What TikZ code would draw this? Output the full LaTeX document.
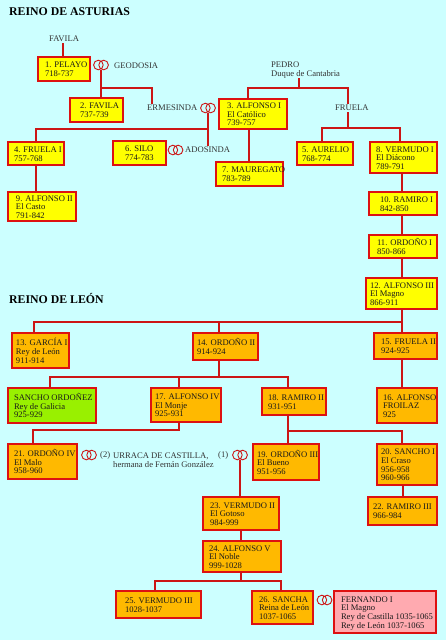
\documentclass[tikz,border=0pt]{standalone}
\usepackage{fontspec}
\setmainfont{Liberation Serif}
\definecolor{bg}{HTML}{CCFFFF}
\definecolor{yel}{HTML}{FFFF00}
\definecolor{ora}{HTML}{FFB900}
\definecolor{grn}{HTML}{99F000}
\definecolor{pnk}{HTML}{FFAAB0}
\definecolor{bordc}{HTML}{DD1111}
\definecolor{linec}{HTML}{CC1515}
\definecolor{txt}{HTML}{1A1A1A}
\definecolor{lab}{HTML}{333333}
\newcommand\boxfont{\fontsize{8.6}{8.7}\selectfont}
\newcommand\kbox[8]{\node[#6, anchor=north west, minimum height={#5pt-#3pt}] (#1) at (#2,#3)
  {\makebox[\dimexpr#4pt-#2pt\relax][l]{\hspace*{#7pt}\raisebox{-1.5pt}[\height][\depth]{\begin{tabular}{@{}l@{}}#8\end{tabular}}}};}
\tikzset{
  box/.style={draw=bordc, line width=1.3pt, text=txt, font=\boxfont, inner xsep=0pt, inner ysep=0pt, outer sep=0pt},
  yb/.style={box, fill=yel},
  ob/.style={box, fill=ora},
  gb/.style={box, fill=grn},
  pb/.style={box, fill=pnk},
  lbl/.style={text=lab, font=\boxfont, inner sep=1pt, anchor=west, align=left},
  titl/.style={text=black, font=\fontsize{11.8}{14}\selectfont\bfseries, inner sep=0pt, anchor=west},
  conn/.style={draw=linec, line width=1.4pt},
  ringnode/.style={inner sep=0pt, outer sep=0pt, minimum width=15pt, minimum height=10pt},
  rings/.pic={\draw[linec, line width=0.9pt] (-2.6pt,0pt) circle (4.8pt) (2.6pt,0pt) circle (4.8pt);}
}
\begin{document}
\begin{tikzpicture}[x=1pt,y=-1pt]
\useasboundingbox (0,0) rectangle (446,640);
\fill[bg] (0,0) rectangle (446,640);

% titles
\node[titl] (t1) at (9,12) {REINO DE ASTURIAS};
\node[titl] (t2) at (9,298) {REINO DE LEÓN};

% labels
\node[lbl] (fav) at (48,39) {FAVILA};
\node[lbl] (geo) at (113,66) {GEODOSIA};
\node[lbl] (erm) at (146,108) {ERMESINDA};
\node[lbl] (ados) at (184,150) {ADOSINDA};
\node[lbl, inner sep=0pt] (ped) at (271,70) {PEDRO\\Duque de Cantabria};
\node[lbl] (fru) at (334,108) {FRUELA};
\node[lbl] (n2) at (99,455) {(2)};
\node[lbl] (urr) at (112,460) {URRACA DE CASTILLA,\\hermana de Fernán González};
\node[lbl] (n1) at (217,455) {(1)};

% rings
\node[ringnode] (r1) at (101,65) {}; \pic at (r1) {rings};
\node[ringnode] (r2) at (208,108) {}; \pic at (r2) {rings};
\node[ringnode] (r3) at (175.5,150) {}; \pic at (r3) {rings};
\node[ringnode] (r4) at (89,455) {}; \pic at (r4) {rings};
\node[ringnode] (r5) at (240,455) {}; \pic at (r5) {rings};
\node[ringnode] (r6) at (324.5,600) {}; \pic at (r6) {rings};

% boxes
\kbox{b1}{38}{57}{90}{81}{yb}{7}{1. PELAYO\\718-737}
\kbox{b2}{70}{98}{123}{122}{yb}{10}{2. FAVILA\\737-739}
\kbox{b3}{219}{99}{287}{129}{yb}{8}{3. ALFONSO I\\El Católico\\739-757}
\kbox{b4}{8}{142}{64}{165}{yb}{6}{4. FRUELA I\\757-768}
\kbox{b5}{297}{142}{353}{165}{yb}{5}{5. AURELIO\\768-774}
\kbox{b6}{113}{141}{166}{165}{yb}{12}{6. SILO\\774-783}
\kbox{b7}{216}{162}{283}{186}{yb}{6}{7. MAUREGATO\\783-789}
\kbox{b8}{370}{142}{437}{173}{yb}{6}{8. VERMUDO I\\El Diácono\\789-791}
\kbox{b9}{8}{192}{76}{221}{yb}{8}{9. ALFONSO II\\El Casto\\791-842}
\kbox{b10}{369}{192}{437}{215}{yb}{11}{10. RAMIRO I\\842-850}
\kbox{b11}{369}{235}{437}{258}{yb}{8}{11. ORDOÑO I\\850-866}
\kbox{b12}{366}{278}{437}{309}{yb}{4}{12. ALFONSO III\\El Magno\\866-911}
\kbox{b13}{12}{333}{69}{368}{ob}{4}{13. GARCÍA I\\Rey de León\\911-914}
\kbox{b14}{193}{333}{258}{360}{ob}{4}{14. ORDOÑO II\\914-924}
\kbox{b15}{374}{333}{437}{359}{ob}{7}{15. FRUELA II\\924-925}
\kbox{b16}{377}{388}{437}{423}{ob}{6}{16. ALFONSO\\FROILAZ\\925}
\kbox{bs}{8}{388}{96}{423}{gb}{6}{SANCHO ORDOÑEZ\\Rey de Galicia\\925-929}
\kbox{b17}{151}{388}{221}{422}{ob}{4}{17. ALFONSO IV\\El Monje\\925-931}
\kbox{b18}{262}{388}{326}{415}{ob}{6}{18. RAMIRO II\\931-951}
\kbox{b19}{253}{444}{319}{480}{ob}{4}{19. ORDOÑO III\\El Bueno\\951-956}
\kbox{b20}{377}{444}{437}{485}{ob}{4}{20. SANCHO I\\El Craso\\956-958\\960-966}
\kbox{b21}{8}{444}{77}{479}{ob}{6}{21. ORDOÑO IV\\El Malo\\958-960}
\kbox{b22}{368}{497}{437}{525}{ob}{5}{22. RAMIRO III\\966-984}
\kbox{b23}{203}{497}{279}{530}{ob}{7}{23. VERMUDO II\\El Gotoso\\984-999}
\kbox{b24}{203}{541}{281}{572}{ob}{6}{24. ALFONSO V\\El Noble\\999-1028}
\kbox{b25}{116}{591}{201}{618}{ob}{9}{25. VERMUDO III\\1028-1037}
\kbox{b26}{252}{591}{313}{624}{ob}{7}{26. SANCHA\\Reina de León\\1037-1065}
\kbox{bf}{334}{591}{436}{633}{pb}{7}{FERNANDO I\\El Magno\\Rey de Castilla 1035-1065\\Rey de León 1037-1065}

% connectors - Asturias
\draw[conn] ([xshift=15pt]fav.south west) -- ([xshift=15pt]fav.south west |- b1.north);
\draw[conn] (r1.south) -- (r1.south |- b2.north);
\draw[conn] ([yshift=-18pt]r1.south) -| ([xshift=6pt]erm.north west);
\draw[conn] (r2.south) -- (r2.south |- ados.north);
\draw[conn] ([yshift=-16pt]r2.south) -| ([xshift=28pt]b4.north west);
\draw[conn] ([xshift=-4pt]b3.south) -- ([xshift=-4pt]b3.south |- b7.north);
\draw[conn] ([xshift=28pt]b4.south west) -- ([xshift=28pt]b4.south west |- b9.north);
\coordinate (jp) at (299,88);
\coordinate (jf) at (348,128);
\draw[conn] (jp |- ped.south) -- (jp);
\draw[conn] ([xshift=-5pt]b3.north) |- (jp) -| (jf |- fru.north);
\draw[conn] (jf |- fru.south) -- (jf);
\draw[conn] ([xshift=-3pt]b5.north) |- (jf) -| ([xshift=-3.5pt]b8.north);
\draw[conn] ([xshift=-1pt]b10.north) -- ([xshift=-1pt]b10.north |- b8.south);
\draw[conn] ([xshift=-1pt]b11.north) -- ([xshift=-1pt]b11.north |- b10.south);
\draw[conn] ([xshift=-1pt]b11.south) -- ([xshift=-1pt]b11.south |- b12.north);

% connectors - Leon
\draw[conn] ([xshift=0.5pt]b12.south) -- ([xshift=0.5pt]b12.south |- b15.north);
\draw[conn] ([yshift=-13pt]b12.south) -| ([xshift=22pt]b13.north west);
\draw[conn] ([xshift=26pt]b14.north west) -- ++(0,-11);
\draw[conn] ([xshift=26pt]b14.south west) -- ++(0,17) coordinate (j14);
\draw[conn] ([xshift=-2pt]bs.north) |- (j14) -| ([xshift=-6pt]b18.north);
\draw[conn] ([xshift=-7pt]b17.north) -- ++(0,-11);
\draw[conn] ([xshift=-3.5pt]b15.south) -- ([xshift=-3.5pt]b15.south |- b16.north);
\draw[conn] ([xshift=-7pt]b17.south) -- ++(0,8) -| ([xshift=25pt]b21.north west);
\draw[conn] ([xshift=-6pt]b18.south) -- ++(0,16) coordinate (j18);
\draw[conn] (j18) -| ([xshift=-5pt]b20.north);
\draw[conn] (j18) -- (j18 |- b19.north);
\draw[conn] ([xshift=-4pt]b20.south) -- ([xshift=-4pt]b20.south |- b22.north);
\draw[conn] (r5.south) -- (r5.south |- b23.north);
\draw[conn] (b23.south) -- (b23.south |- b24.north);
\draw[conn] (b23.south |- b24.south) -- ++(0,9) coordinate (j24);
\draw[conn] ([xshift=-3.5pt]b25.north) |- (j24) -| ([xshift=-1.5pt]b26.north);
\end{tikzpicture}
\end{document}
